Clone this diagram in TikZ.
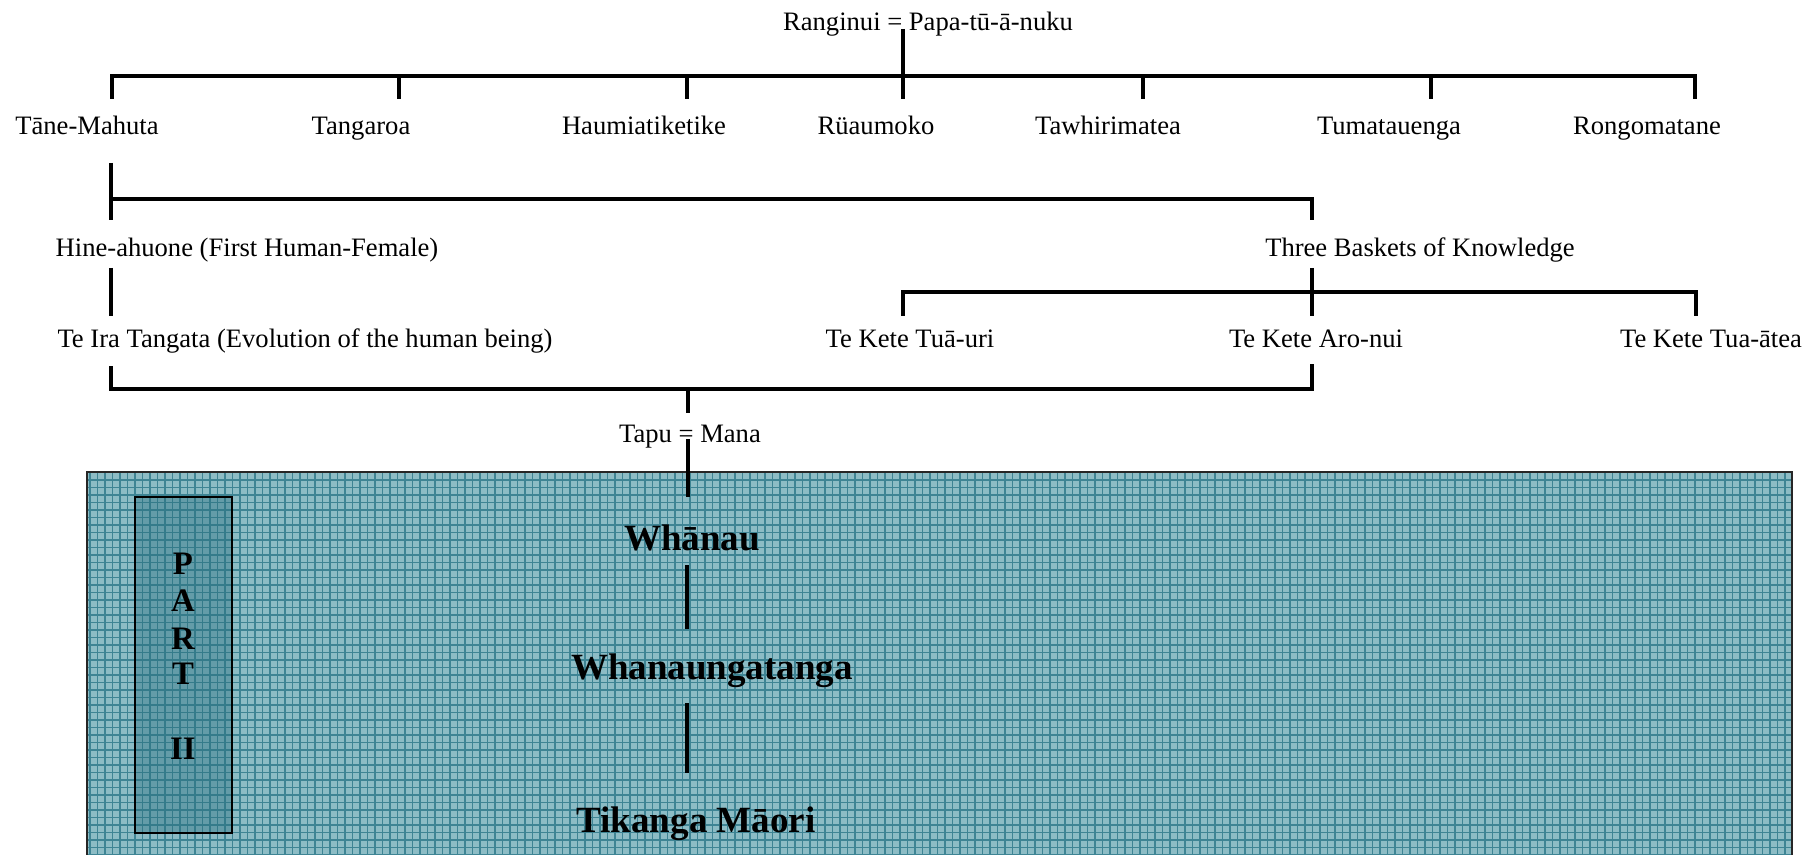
\documentclass[tikz,border=0pt]{standalone}
\usepackage{fontspec}
\setmainfont{Liberation Serif}
\definecolor{boxfill}{RGB}{140,188,197}
\definecolor{gridc}{RGB}{62,132,148}
\definecolor{partfill}{RGB}{40,110,125}
\begin{document}
\begin{tikzpicture}[x=0.5pt,y=-0.5pt,
  lbl/.style={font=\fontsize{13.3}{16}\selectfont, anchor=base, inner sep=0pt},
  big/.style={font=\fontsize{18.5}{22}\selectfont\bfseries, anchor=base, inner sep=0pt},
  part/.style={font=\fontsize{16.4}{20}\selectfont\bfseries, anchor=base, inner sep=0pt},
  bar/.style={line width=2.2pt, line join=miter},
  tick/.style={line width=1.7pt},
  link/.style={line width=2.3pt}]
\useasboundingbox (0,0) rectangle (1818,855);
% background panel
\fill[boxfill] (87,472) rectangle (1792,855);
\begin{scope}
\clip (87,472) rectangle (1792,855);
\draw[gridc, line width=0.6pt, step=3.75pt] (80,470) grid (1800,860);
\end{scope}
\draw[line width=0.7pt, black!85] (87,855) -- (87,472) -- (1792,472) -- (1792,855);
\draw[line width=1pt, fill=partfill, fill opacity=0.4] (135,497) rectangle (232,833);
\node[part] (pP) at (183,574) {P};
\node[part] (pA) at (183,611) {A};
\node[part] (pR) at (183,649) {R};
\node[part] (pT) at (183,684) {T};
\node[part] (pII) at (183,759) {II};
% text nodes
\node[lbl] (rang) at (928,31) {Ranginui = Papa-tū-ā-nuku};
\node[lbl] (tane) at (87,135) {Tāne-Mahuta};
\node[lbl] (tang) at (361,135) {Tangaroa};
\node[lbl] (haum) at (644,135) {Haumiatiketike};
\node[lbl] (ruau) at (876,135) {Rüaumoko};
\node[lbl] (tawh) at (1108,135) {Tawhirimatea};
\node[lbl] (tuma) at (1389,135) {Tumatauenga};
\node[lbl] (rong) at (1647,135) {Rongomatane};
\node[lbl] (hine) at (247,257) {Hine-ahuone (First Human-Female)};
\node[lbl] (three) at (1420,257) {Three Baskets of Knowledge};
\node[lbl] (ira) at (305,348) {Te Ira Tangata (Evolution of the human being)};
\node[lbl] (tuauri) at (910,348) {Te Kete Tuā-uri};
\node[lbl] (aronui) at (1316,348) {Te Kete Aro-nui};
\node[lbl] (tuaatea) at (1711,348) {Te Kete Tua-ātea};
\node[lbl] (tapu) at (690,442) {Tapu = Mana};
\node[big] (whanau) at (692,550) {Whānau};
\node[big] (whanaunga) at (712,679) {Whanaungatanga};
\node[big] (tikanga) at (696,832) {Tikanga Māori};
% coordinates
\coordinate (rA) at (903,29);
\coordinate (g1) at (112,99);  \coordinate (g1b) at (112,76);
\coordinate (g2) at (399,99);  \coordinate (g2b) at (399,76);
\coordinate (g3) at (687,99);  \coordinate (g3b) at (687,76);
\coordinate (g4) at (903,99);
\coordinate (g5) at (1143,99); \coordinate (g5b) at (1143,76);
\coordinate (g6) at (1431,99); \coordinate (g6b) at (1431,76);
\coordinate (g7) at (1695,99); \coordinate (g7b) at (1695,76);
\coordinate (h1) at (111,163); \coordinate (h1m) at (111,199); \coordinate (h1e) at (111,220);
\coordinate (h2m) at (1312,199); \coordinate (h2e) at (1312,220);
\coordinate (i1) at (111,268); \coordinate (i1e) at (111,316);
\coordinate (i2) at (1312,268); \coordinate (i2e) at (1312,316);
\coordinate (k1) at (903,316); \coordinate (k1b) at (903,292);
\coordinate (k3) at (1696,316); \coordinate (k3b) at (1696,292);
\coordinate (m1) at (111,366); \coordinate (m1b) at (111,389);
\coordinate (m2) at (1312,364); \coordinate (m2b) at (1312,389);
\coordinate (tp1) at (688,389); \coordinate (tp2) at (688,413);
\coordinate (tp3) at (688,439); \coordinate (tp4) at (688,497);
\coordinate (w1) at (687,565); \coordinate (w2) at (687,629);
\coordinate (w3) at (687,703); \coordinate (w4) at (687,773);
% generation 1
\draw[tick] (rA) -- (g4);
\draw[bar] (g1) -- (g1b) -- (g7b) -- (g7);
\draw[tick] (g2b) -- (g2);
\draw[tick] (g3b) -- (g3);
\draw[tick] (g5b) -- (g5);
\draw[tick] (g6b) -- (g6);
% Tane bracket
\draw[tick] (h1) -- (h1e);
\draw[bar] (h1m) -- (h2m) -- (h2e);
\draw[tick] (i1) -- (i1e);
\draw[tick] (i2) -- (i2e);
\draw[bar] (k1) -- (k1b) -- (k3b) -- (k3);
% bottom bracket
\draw[bar] (m1) -- (m1b) -- (m2b) -- (m2);
\draw[tick] (tp1) -- (tp2);
\draw[link] (tp3) -- (tp4);
\draw[link] (w1) -- (w2);
\draw[link] (w3) -- (w4);
\end{tikzpicture}
\end{document}
